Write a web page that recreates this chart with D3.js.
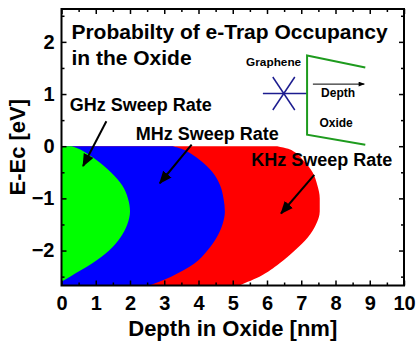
<!DOCTYPE html>
<html>
<head>
<meta charset="utf-8">
<script src="https://cdn.jsdelivr.net/npm/d3@7"></script>
<style>
  html, body { margin: 0; padding: 0; background: #fff; }
  svg { display: block; font-family: "Liberation Sans", Arial, sans-serif; font-weight: bold; }
</style>
</head>
<body>
<svg id="chart" width="416" height="343"></svg>
<script>
// Energy levels (eV, relative to Ec) at which the occupancy boundaries are sampled
const energies = [0, -0.05, -0.1, -0.25, -0.5, -0.75, -1.0, -1.25, -1.5, -1.75, -2.0, -2.25, -2.5, -2.6, -2.75];
// Deepest occupied trap (nm) at each energy, per sweep rate
const ghzDepth = [0.30, 0.50, 0.65, 0.99, 1.44, 1.77, 1.94, 2.00, 1.92, 1.72, 1.39, 0.89, 0.25, 0.0, null];
const mhzDepth = [3.25, 3.50, 3.67, 4.01, 4.41, 4.63, 4.73, 4.77, 4.70, 4.53, 4.26, 3.88, 3.20, 2.85, 2.25];
const khzDepth = [6.30, 6.62, 6.78, 7.03, 7.33, 7.47, 7.54, 7.54, 7.43, 7.19, 6.81, 6.36, 5.78, 5.44, 4.95];

const xTickLabels = [0, 1, 2, 3, 4, 5, 6, 7, 8, 9, 10];
const yTickLabels = [-2, -1, 0, 1, 2];

const svg = d3.select("#chart");
const plotLeft = 61.5, plotRight = 404, plotTop = 9, plotBottom = 285.5;

const x = d3.scaleLinear().domain([0, 10]).range([plotLeft, plotRight]);
const y = d3.scaleLinear().domain([-2.67, 2.63]).range([plotBottom, plotTop]);

const defs = svg.append("defs");
defs.append("clipPath").attr("id", "plotClip")
  .append("rect").attr("x", plotLeft).attr("y", plotTop)
  .attr("width", plotRight - plotLeft).attr("height", plotBottom - plotTop);
defs.append("marker").attr("id", "bigHead")
  .attr("viewBox", "0 0 12 10").attr("refX", 11).attr("refY", 5)
  .attr("markerUnits", "userSpaceOnUse")
  .attr("markerWidth", 13).attr("markerHeight", 11).attr("orient", "auto")
  .append("path").attr("d", "M0,0 L12,5 L0,10 Z").attr("fill", "#000");
defs.append("marker").attr("id", "smallHead")
  .attr("viewBox", "0 0 10 8").attr("refX", 9).attr("refY", 4)
  .attr("markerUnits", "userSpaceOnUse")
  .attr("markerWidth", 7).attr("markerHeight", 5).attr("orient", "auto")
  .append("path").attr("d", "M0,0 L10,4 L0,8 Z").attr("fill", "#000");

// Occupied regions, drawn widest first
const series = [
  { depth: khzDepth, color: "#ff0000" },
  { depth: mhzDepth, color: "#0000ff" },
  { depth: ghzDepth, color: "#00ff00" }
];
const regions = svg.append("g").attr("clip-path", "url(#plotClip)");
series.forEach(s => {
  const pts = energies.map((e, i) => ({ e, d: s.depth[i] })).filter(p => p.d != null);
  const area = d3.area()
    .curve(d3.curveMonotoneY)
    .y(p => y(p.e))
    .x0(x(0))
    .x1(p => x(p.d));
  regions.append("path").attr("d", area(pts)).attr("fill", s.color);
});

// Axes with inward ticks on all four sides
function styleAxis(g) {
  g.select(".domain").remove();
  g.selectAll(".tick line").attr("stroke", "#000").attr("stroke-width", 1.5);
  g.selectAll("text").attr("fill", "#000").attr("font-size", 20)
    .attr("font-family", "Liberation Sans, Arial, sans-serif").attr("font-weight", "bold");
}
const xMajor = xTickLabels;
const xMinor = d3.range(0.5, 10, 1);
const yMajor = yTickLabels;
const yMinor = [-2.5, -1.5, -0.5, 0.5, 1.5, 2.5];

svg.append("g").attr("transform", `translate(0,${plotBottom})`)
  .call(d3.axisBottom(x).tickValues(xMajor).tickSize(-5).tickPadding(10).tickFormat(d3.format("d")))
  .call(styleAxis);
svg.append("g").attr("transform", `translate(0,${plotBottom})`)
  .call(d3.axisBottom(x).tickValues(xMinor).tickSize(-3).tickFormat(""))
  .call(styleAxis);
svg.append("g").attr("transform", `translate(0,${plotTop})`)
  .call(d3.axisTop(x).tickValues(xMajor).tickSize(-5).tickFormat(""))
  .call(styleAxis);
svg.append("g").attr("transform", `translate(0,${plotTop})`)
  .call(d3.axisTop(x).tickValues(xMinor).tickSize(-3).tickFormat(""))
  .call(styleAxis);
svg.append("g").attr("transform", `translate(${plotLeft},0)`)
  .call(d3.axisLeft(y).tickValues(yMajor).tickSize(-5).tickPadding(7).tickFormat(d3.format("d")))
  .call(styleAxis);
svg.append("g").attr("transform", `translate(${plotLeft},0)`)
  .call(d3.axisLeft(y).tickValues(yMinor).tickSize(-3).tickFormat(""))
  .call(styleAxis);
svg.append("g").attr("transform", `translate(${plotRight},0)`)
  .call(d3.axisRight(y).tickValues(yMajor).tickSize(-5).tickFormat(""))
  .call(styleAxis);
svg.append("g").attr("transform", `translate(${plotRight},0)`)
  .call(d3.axisRight(y).tickValues(yMinor).tickSize(-3).tickFormat(""))
  .call(styleAxis);

svg.append("rect").attr("x", plotLeft).attr("y", plotTop)
  .attr("width", plotRight - plotLeft).attr("height", plotBottom - plotTop)
  .attr("fill", "none").attr("stroke", "#000").attr("stroke-width", 2);

// Axis titles
svg.append("text").attr("x", (plotLeft + plotRight) / 2).attr("y", 336)
  .attr("text-anchor", "middle").attr("font-size", 22).text("Depth in Oxide [nm]");
svg.append("text").attr("transform", `translate(25,${(plotTop + plotBottom) / 2}) rotate(-90)`)
  .attr("text-anchor", "middle").attr("font-size", 22).text("E-Ec [eV]");

// Title inside the frame
svg.append("text").attr("x", x(0.29)).attr("y", y(2.06)).attr("font-size", 21)
  .text("Probabilty of e-Trap Occupancy");
svg.append("text").attr("x", x(0.29)).attr("y", y(1.56)).attr("font-size", 21)
  .text("in the Oxide");

// Sweep-rate labels with pointers
const notes = svg.append("g");
notes.append("text").attr("x", x(0.24)).attr("y", y(0.67)).attr("font-size", 18).text("GHz Sweep Rate");
notes.append("text").attr("x", x(2.17)).attr("y", y(0.11)).attr("font-size", 18).text("MHz Sweep Rate");
notes.append("text").attr("x", x(5.54)).attr("y", y(-0.37)).attr("font-size", 18).text("KHz Sweep Rate");
[[1.31, 0.48, 0.63, -0.38], [3.80, 0.03, 2.87, -0.71], [7.38, -0.55, 6.41, -1.29]].forEach(a => {
  notes.append("line")
    .attr("x1", x(a[0])).attr("y1", y(a[1])).attr("x2", x(a[2])).attr("y2", y(a[3]))
    .attr("stroke", "#000").attr("stroke-width", 2).attr("marker-end", "url(#bigHead)");
});

// Graphene / oxide sketch
const sketch = svg.append("g");
sketch.append("text").attr("x", x(5.39)).attr("y", y(1.53)).attr("font-size", 11.8).text("Graphene");
const cx = x(6.49), cy = y(1.01);
sketch.append("line").attr("x1", x(5.88)).attr("y1", cy).attr("x2", x(7.19)).attr("y2", cy)
  .attr("stroke", "#1c1c8f").attr("stroke-width", 1.5);
[[-11, -16.5], [11, -16.5]].forEach(([dx, dy]) => {
  sketch.append("line").attr("x1", cx + dx).attr("y1", cy + dy).attr("x2", cx - dx).attr("y2", cy - dy)
    .attr("stroke", "#1c1c8f").attr("stroke-width", 1.5);
});
sketch.append("path")
  .attr("d", `M${x(8.87)},${y(1.51)} L${x(7.17)},${y(1.74)} L${x(7.17)},${y(0.22)} L${x(8.87)},${y(0.03)}`)
  .attr("fill", "none").attr("stroke", "#1e9b1e").attr("stroke-width", 2);
sketch.append("line").attr("x1", x(7.34)).attr("y1", y(1.19)).attr("x2", x(8.84)).attr("y2", y(1.19))
  .attr("stroke", "#000").attr("stroke-width", 1).attr("marker-end", "url(#smallHead)");
sketch.append("text").attr("x", x(7.58)).attr("y", y(0.94)).attr("font-size", 12).text("Depth");
sketch.append("text").attr("x", x(7.53)).attr("y", y(0.36)).attr("font-size", 12).text("Oxide");
</script>
</body>
</html>
